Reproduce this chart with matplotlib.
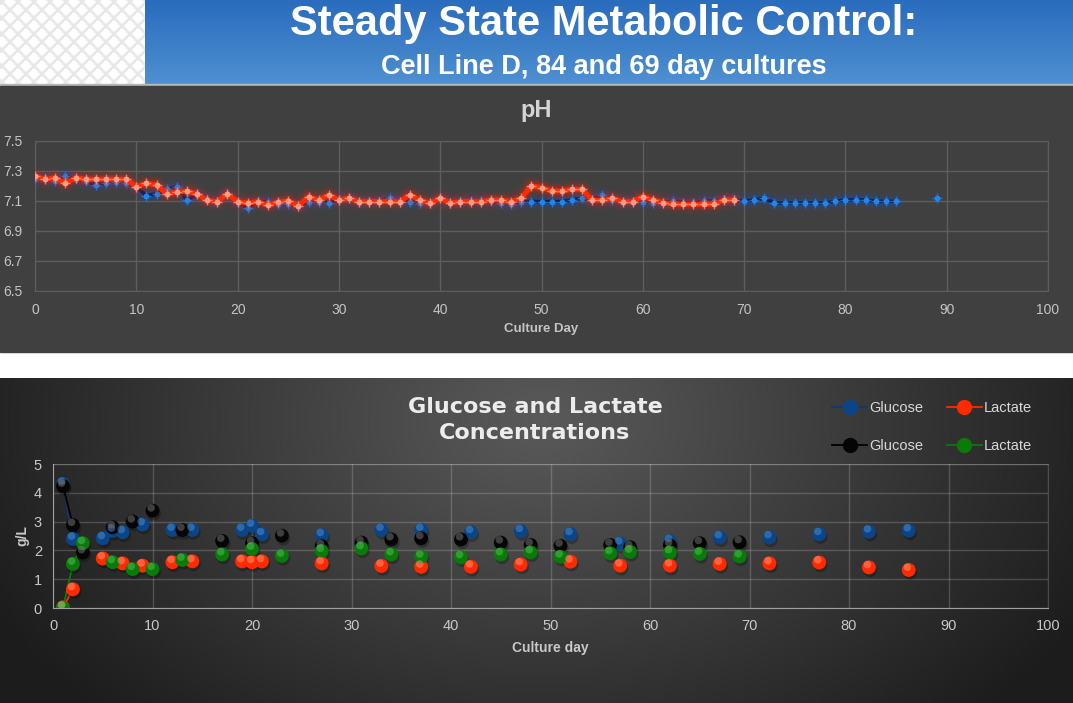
import numpy as np
import matplotlib
matplotlib.use("Agg")
import matplotlib.pyplot as plt
from matplotlib.lines import Line2D
from matplotlib.patches import Rectangle
from matplotlib import transforms

W, H = 1073, 703

# ---- pH data (two cultures) ----
ph_days_red = list(range(0, 70))
ph_red = [7.267, 7.245, 7.255, 7.218, 7.255, 7.245, 7.245, 7.245, 7.245, 7.245,
          7.195, 7.218, 7.207, 7.147, 7.160, 7.165, 7.147, 7.104, 7.096, 7.147,
          7.096, 7.085, 7.096, 7.073, 7.093, 7.102, 7.067, 7.129, 7.107, 7.138,
          7.107, 7.118, 7.096, 7.096, 7.096, 7.096, 7.096, 7.140, 7.107, 7.085,
          7.118, 7.089, 7.096, 7.096, 7.096, 7.107, 7.107, 7.096, 7.118, 7.202,
          7.189, 7.167, 7.167, 7.178, 7.178, 7.107, 7.107, 7.118, 7.096, 7.096,
          7.129, 7.107, 7.089, 7.078, 7.078, 7.078, 7.078, 7.078, 7.107, 7.107]

ph_days_blue = list(range(0, 86)) + [89]
ph_blue = [7.247, 7.255, 7.233, 7.270, 7.245, 7.233, 7.207, 7.220, 7.230, 7.220,
           7.195, 7.135, 7.147, 7.178, 7.195, 7.104, 7.147, 7.113, 7.096, 7.147,
           7.096, 7.056, 7.096, 7.096, 7.080, 7.080, 7.067, 7.096, 7.096, 7.089,
           7.107, 7.118, 7.096, 7.096, 7.096, 7.118, 7.096, 7.096, 7.089, 7.089,
           7.118, 7.089, 7.096, 7.100, 7.100, 7.100, 7.089, 7.080, 7.096, 7.096,
           7.096, 7.096, 7.096, 7.107, 7.118, 7.107, 7.140, 7.107, 7.096, 7.096,
           7.096, 7.089, 7.089, 7.100, 7.089, 7.085, 7.100, 7.100, 7.107, 7.107,
           7.100, 7.107, 7.118, 7.087, 7.087, 7.087, 7.087, 7.087, 7.087, 7.098,
           7.107, 7.107, 7.107, 7.098, 7.098, 7.098, 7.118]

# ---- glucose / lactate data ----
glc1_days = [1, 2, 5, 6, 7, 9, 12, 14, 19, 20, 21, 27, 33, 37, 42, 47, 52, 57, 62, 67, 72, 77, 82, 86]
glc1 = [4.31, 2.40, 2.42, 2.68, 2.63, 2.90, 2.71, 2.71, 2.71, 2.85, 2.56, 2.53,
        2.71, 2.71, 2.63, 2.67, 2.56, 2.24, 2.32, 2.45, 2.45, 2.56, 2.65, 2.69]
lac1_days = [1, 2, 5, 7, 9, 12, 14, 19, 20, 21, 27, 33, 37, 42, 47, 52, 57, 62, 67, 72, 77, 82, 86]
lac1 = [0.02, 0.65, 1.72, 1.55, 1.47, 1.59, 1.62, 1.62, 1.59, 1.62, 1.55, 1.46,
        1.43, 1.43, 1.51, 1.61, 1.47, 1.47, 1.53, 1.55, 1.58, 1.41, 1.32]
run2_days = [1, 2, 3, 6, 8, 10, 13, 17, 20, 23, 27, 31, 34, 37, 41, 45, 48, 51, 56, 58, 62, 65, 69]
glc2 = [4.24, 2.88, 1.93, 2.80, 3.00, 3.38, 2.71, 2.33, 2.25, 2.51, 2.15, 2.27,
        2.38, 2.42, 2.38, 2.27, 2.19, 2.16, 2.19, 2.11, 2.18, 2.25, 2.28]
lac2 = [0.00, 1.53, 2.25, 1.59, 1.35, 1.35, 1.67, 1.86, 2.05, 1.81, 1.98, 2.07,
        1.86, 1.78, 1.76, 1.86, 1.93, 1.78, 1.90, 1.95, 1.93, 1.88, 1.79]

# (days, values, base colour, highlight colour, line colour, label, points joined by a line)
SERIES = [
    (glc1_days, glc1, "#0c4585", "#4f8fd6", "#0d3a70", "Glucose", 2),
    (lac1_days, lac1, "#ff2a00", "#ff9a7a", "#ff2a00", "Lactate", 2),
    (run2_days, glc2, "#050505", "#777777", "#000000", "Glucose", 3),
    (run2_days, lac2, "#0a7a0a", "#55c055", "#0a7a0a", "Lactate", 3),
]


def with_gaps(x, y):
    """Insert NaN where consecutive days are missing so the line breaks."""
    x = np.asarray(x, float)
    y = np.asarray(y, float)
    xs, ys = [x[0]], [y[0]]
    for i in range(1, len(x)):
        if x[i] - x[i - 1] > 1:
            xs.append(np.nan)
            ys.append(np.nan)
        xs.append(x[i])
        ys.append(y[i])
    return np.array(xs), np.array(ys)


def glow_line(ax, x, y, color, core_lw, glow_color, z):
    for lw, a in [(core_lw + 10, 0.07), (core_lw + 6, 0.12), (core_lw + 3, 0.22)]:
        ax.plot(x, y, color=glow_color, lw=lw, alpha=a, solid_capstyle="round",
                solid_joinstyle="round", zorder=z)
    ax.plot(x, y, color=color, lw=core_lw, solid_joinstyle="round", zorder=z + 0.1)


fig = plt.figure(figsize=(W / 100, H / 100), dpi=100)

# ---- backgrounds (pixel coords) ----
bg = fig.add_axes([0, 0, 1, 1])
bg.set_xlim(0, W)
bg.set_ylim(H, 0)
bg.axis("off")

# decorative pattern top-left
for k in range(-10, 20):
    x0 = k * 16
    bg.plot([x0, x0 + 84], [0, 84], color="#e8e8e8", lw=2.0, zorder=1)
    bg.plot([x0 + 84, x0], [0, 84], color="#e8e8e8", lw=2.0, zorder=1)
bg.add_patch(Rectangle((145, 0), W - 145, 84, color="#ffffff", zorder=2))

top = np.array([0x2a, 0x6c, 0xbd]) / 255
bot = np.array([0x4e, 0x90, 0xd0]) / 255
t = np.linspace(0, 1, 100)[:, None, None]
grad = top * (1 - t) + bot * t
bg.imshow(grad, extent=(145, W, 84, 0), aspect="auto", zorder=3)
bg.add_patch(Rectangle((0, 84), W, 2, color="#b8b8b8", zorder=3))
bg.add_patch(Rectangle((0, 86), W, 266, color="#404040", zorder=3))

yy, xx = np.mgrid[378:703:2, 0:W:2]
r = np.sqrt(((xx - 540) / 620.0) ** 2 + ((yy - 420) / 420.0) ** 2)
r = np.clip(r, 0, 1)
c0, c1 = 0x5a / 255, 0x1c / 255
rad = c0 * (1 - r) + c1 * r
bg.imshow(np.dstack([rad, rad, rad]), extent=(0, W, 703, 378), aspect="auto", zorder=3)

bg.text(604, 24, "Steady State Metabolic Control:", color="white", fontsize=30,
        fontweight="bold", ha="center", va="center", family="Liberation Sans", zorder=4)
bg.text(604, 67, "Cell Line D, 84 and 69 day cultures", color="white", fontsize=19.5,
        fontweight="bold", ha="center", va="center", family="Liberation Sans", zorder=4)
bg.text(536, 110, "pH", color="#d4d4d4", fontsize=17, fontweight="bold",
        ha="center", va="center", family="Liberation Sans", zorder=4)
bg.text(535, 420, "Glucose and Lactate\nConcentrations", color="#ececec", fontsize=16,
        fontweight="bold", ha="center", va="center", family="DejaVu Sans",
        linespacing=1.4, zorder=4)

# ---- pH chart ----
ax1 = fig.add_axes([35 / W, 1 - 291 / H, (1048 - 35) / W, 150 / H])
ax1.set_facecolor("#404040")
ax1.set_xlim(0, 100)
ax1.set_ylim(6.5, 7.5)
ax1.set_xticks(range(0, 101, 10))
ax1.set_yticks([6.5, 6.7, 6.9, 7.1, 7.3, 7.5])
ax1.set_yticklabels(["6.5", "6.7", "6.9", "7.1", "7.3", "7.5"])
ax1.grid(True, color="#5e5e5e", lw=1)
for s in ax1.spines.values():
    s.set_color("#5e5e5e")
ax1.tick_params(length=0, colors="#c4c4c4", labelsize=10, pad=9)
for lab in ax1.get_xticklabels() + ax1.get_yticklabels():
    lab.set_family("Liberation Sans")
ax1.set_xlabel("Culture Day", color="#c4c4c4", fontsize=9.5, fontweight="bold",
               family="Liberation Sans", labelpad=4)

bx, by = with_gaps(ph_days_blue, ph_blue)
glow_line(ax1, bx, by, "#0a2350", 2.5, "#1a50c0", 3)
ax1.plot(ph_days_blue, ph_blue, ls="none", marker="o", ms=4.2, color="#1f86f0",
         mec="none", zorder=4)
ax1.plot(ph_days_blue, ph_blue, ls="none", marker="+", ms=7, mew=1.0, color="#1f86f0",
         alpha=0.7, zorder=4)
rx, ry = with_gaps(ph_days_red, ph_red)
glow_line(ax1, rx, ry, "#ff2a00", 3.6, "#ff2000", 5)
ax1.plot(ph_days_red, ph_red, ls="none", marker="o", ms=4.2, color="#ff9c86",
         mec="none", zorder=6)
ax1.plot(ph_days_red, ph_red, ls="none", marker="+", ms=7, mew=1.0, color="#ff9c86",
         alpha=0.7, zorder=6)

# ---- glucose / lactate chart ----
ax2 = fig.add_axes([53 / W, 1 - 608 / H, (1048 - 53) / W, 144 / H])
ax2.patch.set_alpha(0)
ax2.set_xlim(0, 100)
ax2.set_ylim(0, 5)
ax2.set_xticks(range(0, 101, 10))
ax2.set_yticks(range(0, 6))
ax2.grid(True, color="#ffffff", alpha=0.18, lw=1)
ax2.spines["top"].set_color((1, 1, 1, 0.18))
ax2.spines["right"].set_color((1, 1, 1, 0.18))
ax2.spines["left"].set_color("#a0a0a0")
ax2.spines["bottom"].set_color("#a0a0a0")
ax2.tick_params(length=0, colors="#c8c8c8", labelsize=10.5, pad=8)
for lab in ax2.get_xticklabels() + ax2.get_yticklabels():
    lab.set_family("Liberation Sans")
ax2.set_xlabel("Culture day", color="#c8c8c8", fontsize=10, fontweight="bold",
               family="Liberation Sans", labelpad=6)
ax2.set_ylabel("g/L", color="#c8c8c8", fontsize=10, fontweight="bold",
               family="Liberation Sans", labelpad=3)

hi_tr = transforms.offset_copy(ax2.transData, fig=fig, x=-1.0, y=2.0, units="points")
sh_tr = transforms.offset_copy(ax2.transData, fig=fig, x=1.0, y=-2.0, units="points")
handles = []
for days, vals, base, hi, lc, label, n_join in SERIES:
    ax2.plot(days[:n_join], vals[:n_join], color=lc, lw=1.3, zorder=3)
    ax2.scatter(days, vals, s=100, color="black", alpha=0.25, transform=sh_tr,
                edgecolors="none", zorder=3.5)
    ax2.scatter(days, vals, s=100, color=base, edgecolors="none", zorder=4)
    ax2.scatter(days, vals, s=30, color=hi, alpha=0.5, transform=hi_tr,
                edgecolors="none", zorder=5)
    handles.append(Line2D([], [], color=lc, lw=1.3, marker="o", ms=10,
                          mfc=base, mec=base, label=label))

leg_order = [handles[0], handles[2], handles[1], handles[3]]
leg = fig.legend(handles=leg_order, labels=[h.get_label() for h in leg_order],
                 ncol=2, frameon=False, loc="center", bbox_to_anchor=(932 / W, 1 - 427 / H),
                 labelspacing=1.6, columnspacing=1.6, handlelength=2.4, handletextpad=0.15,
                 prop={"family": "Liberation Sans", "size": 10.5})
for txt in leg.get_texts():
    txt.set_color("#d8d8d8")

fig.savefig("out.png", dpi=100)
